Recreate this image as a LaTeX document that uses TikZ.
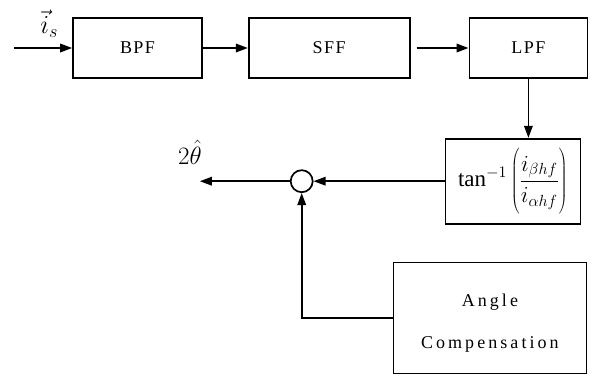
\RequirePackage{fix-cm}
\documentclass[tikz,border=0pt]{standalone}
\usepackage{fontspec}
\setmainfont{Liberation Serif}
\usetikzlibrary{positioning, arrows.meta}

\begin{document}
\begin{tikzpicture}[x=1pt, y=1pt, line width=1.7pt, >={Triangle[length=12pt,width=8.5pt]}]
    \tikzstyle{block} = [rectangle,minimum height=60pt,inner sep=0pt,text centered,draw=black,fill=white,font=\fontsize{18}{21}\selectfont\addfontfeature{LetterSpace=8}]
    \useasboundingbox (0,0) rectangle (592,376);

    \node (bpf) [block, minimum width=129pt] at (137.5,328) {BPF};
    \node (sff) [block, minimum width=161pt, right=45pt of bpf] {SFF};
    \node (lpf) [block, minimum width=118pt, right=58pt of sff] {LPF};

    \coordinate [left=58pt of bpf] (in);
    \node (is) [above right=6pt and 22pt of in, font=\fontsize{26}{30}\selectfont] {$\vec{i}_s$};

    \node (atan) [block, minimum width=135pt, minimum height=85pt, below=59pt of lpf, xshift=-15.5pt, font=\fontsize{23}{27}\selectfont]
        {$\displaystyle\mathrm{tan}^{-1}\left(\frac{\rule{0pt}{21pt}i_{\beta hf}}{i_{\alpha hf}\rule[-11pt]{0pt}{0pt}}\right)$};
    \node (sum) [circle, draw, minimum size=22pt, inner sep=0pt, left=131pt of atan] {};
    \coordinate [left=90pt of sum] (out);
    \node (theta) [above=13pt of out, xshift=-10pt, font=\fontsize{25}{29}\selectfont] {$2\hat{\theta}$};

    \node (comp) [block, minimum width=193pt, minimum height=111pt, below=37pt of atan, xshift=-23pt] {};
    \node (comptxt) [align=center, font=\fontsize{18}{42}\selectfont\addfontfeature{LetterSpace=17}] at ([yshift=-5pt]comp.center) {Angle\\Compensation};

    \draw [->] (in) -- (bpf);
    \draw [->] (bpf) -- (sff);
    \draw [->, shorten <=6pt] (sff) -- (lpf);
    \draw [->] (lpf) -- (lpf |- atan.north);
    \draw [->] (atan) -- (sum);
    \draw [->] (sum) -- (out);
    \draw [->] (comp.west) -| (sum.south);
\end{tikzpicture}
\end{document}
